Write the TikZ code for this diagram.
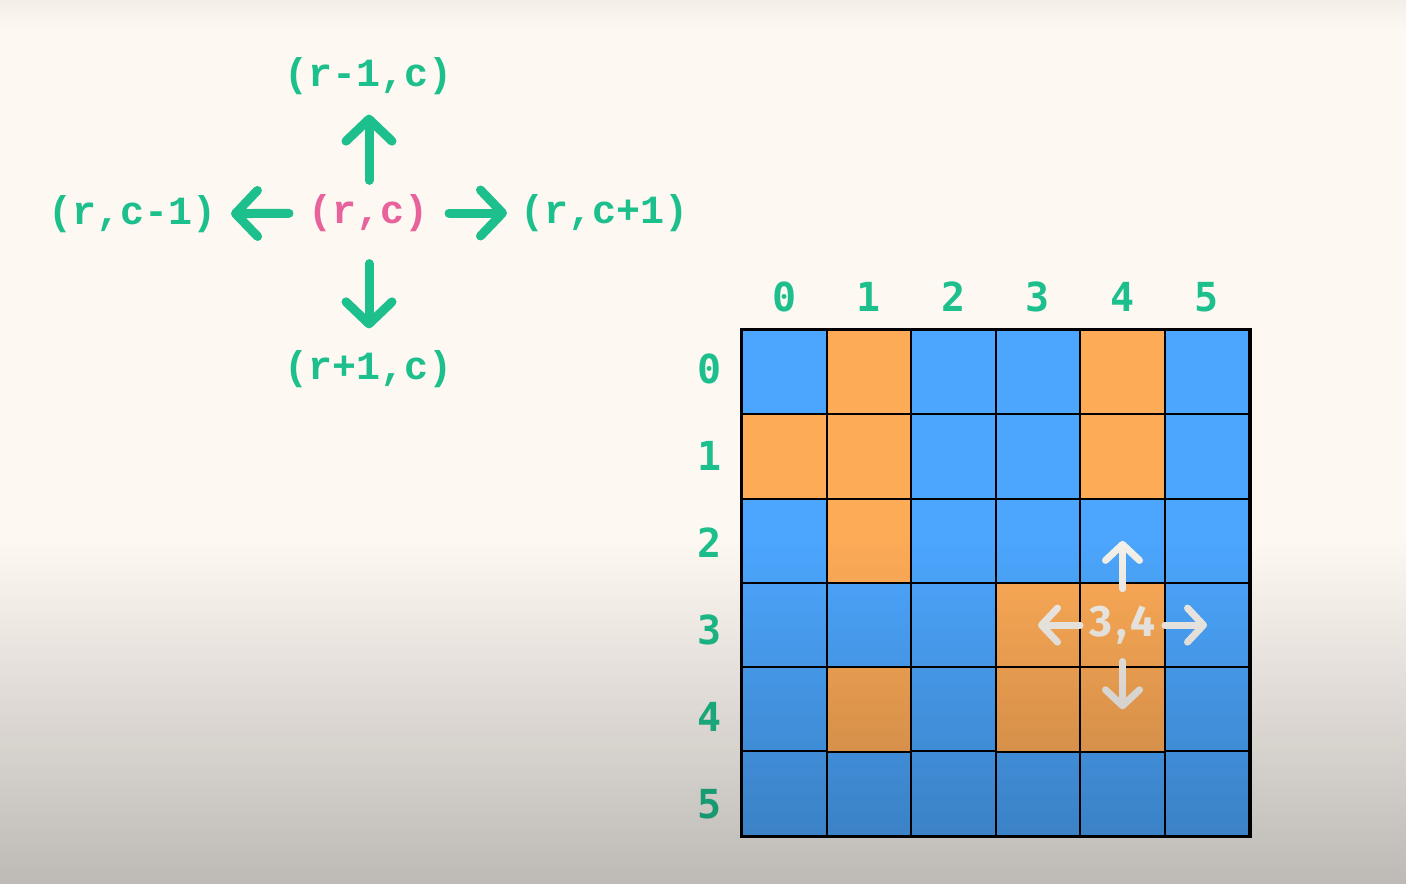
\documentclass[tikz,border=0pt]{standalone}
\usepackage{fontspec}
\setmonofont{Liberation Mono}
\newfontfamily\digitfont{DejaVu Sans Mono}
\newfontfamily\cellfont{Fira Sans}
\usetikzlibrary{arrows.meta,fadings}
\definecolor{bgCream}{HTML}{FDF8F2}
\definecolor{tealG}{HTML}{1DBF8C}
\definecolor{pinkC}{HTML}{E8629C}
\definecolor{cellBlue}{HTML}{4CA6FD}
\definecolor{cellOrange}{HTML}{FDAB57}
\definecolor{warmWhite}{HTML}{F4F0EA}

\begin{document}
\begin{tikzpicture}[
    x=0.5pt, y=-0.5pt,
    lbl/.style={font=\ttfamily\bfseries\fontsize{20}{20}\selectfont, text=tealG, inner sep=0pt, outer sep=7pt},
    idx/.style={font=\digitfont\bfseries\fontsize{20}{20}\selectfont, text=tealG},
    cell/.style={minimum size=42.25pt, inner sep=0pt, draw=black, line width=1pt},
    garr/.style={-{Straight Barb[round, length=11pt, width=23pt]}, line width=4.5pt, line cap=round, tealG},
    warr/.style={-{Straight Barb[round, length=8pt, width=17pt]}, line width=3.5pt, line cap=round, warmWhite},
]
\useasboundingbox (0,0) rectangle (1406,884);
\fill[bgCream] (0,0) rectangle (1406,884);

% neighbours of (r,c)
\node[lbl, text=pinkC] (rc) at (369,213) {(r,c)};
\node[lbl] (up) at (369,76) {(r-1,c)};
\node[lbl] (dn) at (369,369) {(r+1,c)};
\node[lbl] (lf) at (133,214) {(r,c-1)};
\node[lbl] (rt) at (605,213) {(r,c+1)};
\draw[garr, shorten >=3pt] (rc) -- (up);
\draw[garr, shorten <=9pt, shorten >=4pt] (rc) -- (dn);
\draw[garr, shorten <=3pt] (rc) -- (lf);
\draw[garr, shorten <=3pt] (rc) -- (rt);

% grid
\foreach \r in {0,...,5} {
  \foreach \c in {0,...,5} {
    \node[cell, fill=cellBlue] (g-\r-\c) at ({784.5+84.5*\c},{372.5+84.2*\r}) {};
  }
}
\foreach \r/\c in {0/1,0/4,1/0,1/1,1/4,2/1,3/3,3/4,4/1,4/3,4/4}
  \node[cell, fill=cellOrange] at (g-\r-\c) {};
\draw[line width=1.5pt] (g-0-0.north west) rectangle (g-5-5.south east);

\foreach \c in {0,...,5}
  \node[idx] (col-\c) at ({784.5+84.5*\c},297) {\c};
\foreach \r in {0,...,5}
  \node[idx] (row-\r) at (710,{369+87*\r}) {\r};

\node[font=\cellfont\bfseries\fontsize{22}{22}\selectfont, text=warmWhite, inner sep=0pt,
      minimum width=42pt, minimum height=36pt] (c34) at (g-3-4)
      {\raisebox{-4pt}{3\hspace{2pt},\hspace{2pt}4}};
\foreach \n in {2-4,4-4,3-3,3-5}
  \draw[warr] (c34) -- (g-\n.center);

% shadow towards the bottom
\fill[black, opacity=0.25, path fading=north] (0,540) rectangle (1406,884);
\fill[black, opacity=0.04, path fading=south] (0,0) rectangle (1406,30);
\end{tikzpicture}
\end{document}
